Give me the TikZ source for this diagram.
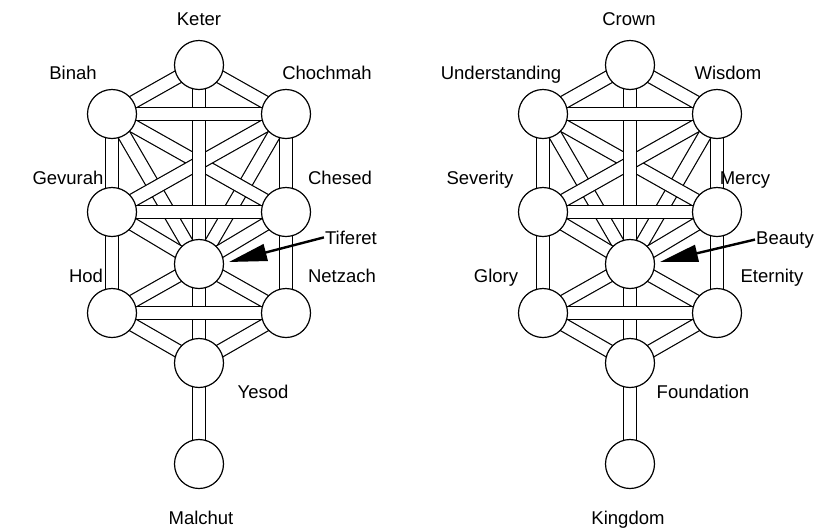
\documentclass[tikz,border=0pt]{standalone}
\usepackage{fontspec}
\setmainfont{Liberation Sans}
\usetikzlibrary{arrows.meta}
\usetikzlibrary{backgrounds}

\tikzset{
  sefira/.style={draw, circle, fill=white, line width=1.2pt, minimum size=49pt, inner sep=0pt},
  pipe/.style={line width=1.2pt, double=white, double distance=11.8pt},
  sefname/.style={font=\fontsize{18.5}{20}\selectfont, inner sep=1pt, anchor=base},
  pointer/.style={line width=2.4pt, -{Triangle[length=38pt, width=17pt]}}
}

\begin{document}
\begin{tikzpicture}[x=1pt, y=-1pt]
\useasboundingbox (0,0) rectangle (815,531);

% Hebrew names
\node[sefira] (keter) at (199,65) {};
\node[sefira] (binah) at (112,114) {};
\node[sefira] (chochmah) at (286,114) {};
\node[sefira] (gevurah) at (112,212) {};
\node[sefira] (chesed) at (286,212) {};
\node[sefira] (tiferet) at (199,264) {};
\node[sefira] (hod) at (112,313) {};
\node[sefira] (netzach) at (286,313) {};
\node[sefira] (yesod) at (199,363) {};
\node[sefira] (malchut) at (199,464) {};

\node[sefname] (keterlbl) at (199,25) {Keter};
\node[sefname] (binahlbl) at (73,79) {Binah};
\node[sefname] (chochmahlbl) at (327,79) {Chochmah};
\node[sefname] (gevurahlbl) at (68,184) {Gevurah};
\node[sefname] (chesedlbl) at (340,184) {Chesed};
\node[sefname] (tiferetlbl) at (351,244) {Tiferet};
\node[sefname] (hodlbl) at (86,282) {Hod};
\node[sefname] (netzachlbl) at (342,282) {Netzach};
\node[sefname] (yesodlbl) at (263,398) {Yesod};
\node[sefname] (malchutlbl) at (201,524) {Malchut};

\coordinate (tipL) at (229,262);
\draw[pointer] (tiferetlbl.west) -- (tipL);

% English names
\node[sefira] (crown) at (630,65) {};
\node[sefira] (understanding) at (543,114) {};
\node[sefira] (wisdom) at (717,114) {};
\node[sefira] (severity) at (543,212) {};
\node[sefira] (mercy) at (717,212) {};
\node[sefira] (beauty) at (630,264) {};
\node[sefira] (glory) at (543,313) {};
\node[sefira] (eternity) at (717,313) {};
\node[sefira] (foundation) at (630,363) {};
\node[sefira] (kingdom) at (630,464) {};

\node[sefname] (crownlbl) at (629,25) {Crown};
\node[sefname] (understandinglbl) at (501,79) {Understanding};
\node[sefname] (wisdomlbl) at (728,79) {Wisdom};
\node[sefname] (severitylbl) at (480,184) {Severity};
\node[sefname] (mercylbl) at (745,184) {Mercy};
\node[sefname] (beautylbl) at (785,244) {Beauty};
\node[sefname] (glorylbl) at (496,282) {Glory};
\node[sefname] (eternitylbl) at (772,282) {Eternity};
\node[sefname] (foundationlbl) at (703,398) {Foundation};
\node[sefname] (kingdomlbl) at (628,524) {Kingdom};

\coordinate (tipR) at (660,262);
\draw[pointer] (beautylbl.west) -- (tipR);

\begin{scope}[on background layer]
  % paths, left tree
  \draw[pipe] (binah.center) -- (tiferet.center);
  \draw[pipe] (chochmah.center) -- (tiferet.center);
  \draw[pipe] (keter.center) -- (binah.center);
  \draw[pipe] (keter.center) -- (chochmah.center);
  \draw[pipe] (binah.center) -- (gevurah.center);
  \draw[pipe] (chochmah.center) -- (chesed.center);
  \draw[pipe] (gevurah.center) -- (tiferet.center);
  \draw[pipe] (chesed.center) -- (tiferet.center);
  \draw[pipe] (gevurah.center) -- (hod.center);
  \draw[pipe] (chesed.center) -- (netzach.center);
  \draw[pipe] (tiferet.center) -- (hod.center);
  \draw[pipe] (tiferet.center) -- (netzach.center);
  \draw[pipe] (hod.center) -- (yesod.center);
  \draw[pipe] (netzach.center) -- (yesod.center);
  \draw[pipe] (yesod.center) -- (malchut.center);
  \draw[pipe] (binah.center) -- (chesed.center);
  \draw[pipe] (chochmah.center) -- (gevurah.center);
  \draw[pipe] (keter.center) -- (tiferet.center);
  \draw[pipe] (tiferet.center) -- (yesod.center);
  \draw[pipe] (binah.center) -- (chochmah.center);
  \draw[pipe] (gevurah.center) -- (chesed.center);
  \draw[pipe] (hod.center) -- (netzach.center);
  % paths, right tree
  \draw[pipe] (understanding.center) -- (beauty.center);
  \draw[pipe] (wisdom.center) -- (beauty.center);
  \draw[pipe] (crown.center) -- (understanding.center);
  \draw[pipe] (crown.center) -- (wisdom.center);
  \draw[pipe] (understanding.center) -- (severity.center);
  \draw[pipe] (wisdom.center) -- (mercy.center);
  \draw[pipe] (severity.center) -- (beauty.center);
  \draw[pipe] (mercy.center) -- (beauty.center);
  \draw[pipe] (severity.center) -- (glory.center);
  \draw[pipe] (mercy.center) -- (eternity.center);
  \draw[pipe] (beauty.center) -- (glory.center);
  \draw[pipe] (beauty.center) -- (eternity.center);
  \draw[pipe] (glory.center) -- (foundation.center);
  \draw[pipe] (eternity.center) -- (foundation.center);
  \draw[pipe] (foundation.center) -- (kingdom.center);
  \draw[pipe] (understanding.center) -- (mercy.center);
  \draw[pipe] (wisdom.center) -- (severity.center);
  \draw[pipe] (crown.center) -- (beauty.center);
  \draw[pipe] (beauty.center) -- (foundation.center);
  \draw[pipe] (understanding.center) -- (wisdom.center);
  \draw[pipe] (severity.center) -- (mercy.center);
  \draw[pipe] (glory.center) -- (eternity.center);
\end{scope}
\end{tikzpicture}
\end{document}
